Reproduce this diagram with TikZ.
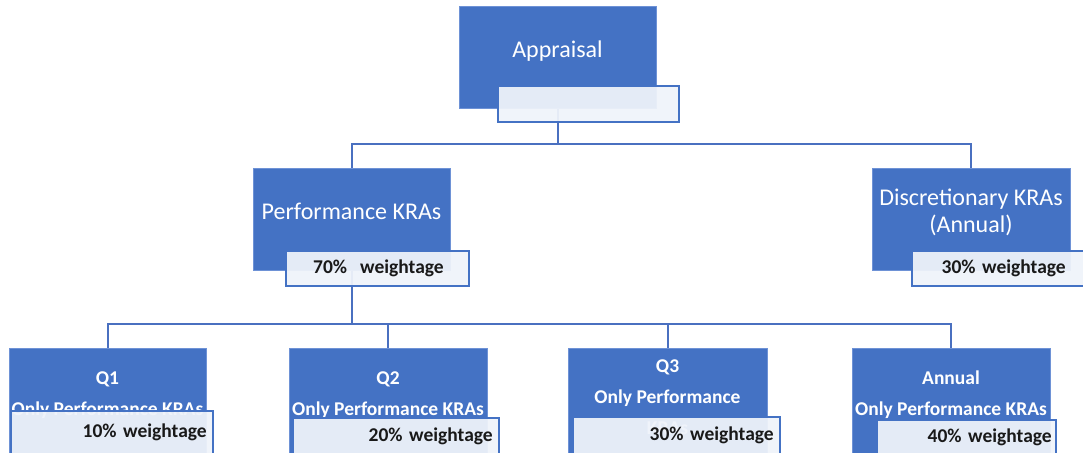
\documentclass[tikz,border=0pt]{standalone}
\usepackage{fontspec}
\setmainfont{Carlito}
\usepackage{tikz}
\usetikzlibrary{positioning}
\definecolor{kpiblue}{RGB}{68, 114, 196}
\definecolor{kpiedge}{RGB}{110, 146, 214}
\definecolor{tagfill}{RGB}{239, 243, 250}
\definecolor{linkblue}{RGB}{74, 112, 192}
\newcommand{\topfont}{\fontsize{24}{27}\selectfont}
\newcommand{\subfont}{\fontsize{19.5}{31}\selectfont\bfseries}

\begin{document}
\begin{tikzpicture}[
  x=1pt, y=-1pt,
  kpibox/.style={rectangle, draw=kpiedge, line width=1pt, fill=kpiblue,
               text=white, align=center, inner sep=0pt, font=\topfont,
               text depth=16pt},
  qbox/.style={kpibox, font=\subfont, minimum height=112pt, text depth=21pt},
  tagbox/.style={rectangle, draw=kpiblue, line width=1.5pt, fill=tagfill,
               fill opacity=0.94, text opacity=1, anchor=north west,
               align=right, inner ysep=0pt, font=\subfont, text=black!90},
  link/.style={draw=linkblue, line width=2pt}
]
  \useasboundingbox (0,0) rectangle (1083,452);
  \clip (0,0) rectangle (1083,452);

  % blue boxes
  \node[kpibox, minimum width=197pt, minimum height=101pt] (app) at (557.5,57.5) {Appraisal};
  \node[kpibox, minimum width=197pt, minimum height=102pt] (perf) at (351.5,219) {Performance KRAs};
  \node[kpibox, minimum width=198pt, minimum height=102pt] (disc) at (971,219) {Discretionary KRAs\\(Annual)};
  \node[qbox, minimum width=197pt] (q1) at (107.5,404) {Q1\\Only Performance KRAs};
  \node[qbox, minimum width=198pt] (q2) at (388,404) {Q2\\Only Performance KRAs};
  \node[qbox, minimum width=199pt, text depth=13pt] (q3) at (667.5,404) {Q3\\Only Performance\\KRAs};
  \node[qbox, minimum width=198pt] (annual) at (951,404) {Annual\\Only Performance KRAs};

  % connectors
  \draw[link] (app.south) -- ++(0,35) -| (perf.north);
  \draw[link] (app.south) -- ++(0,35) -| (disc.north);
  \foreach \child in {q1, q2, q3, annual}
    \draw[link] (perf.south) -- ++(0,53) -| (\child.north);

  % weightage tags
  \node[tagbox, minimum width=181pt, minimum height=36pt] (apptag) at (497,85) {};
  \node[tagbox, minimum width=183pt, minimum height=35pt, inner xsep=25pt, text width=133pt] (perftag) at (285,250) {70\%\ \ weightage};
  \node[tagbox, minimum width=180pt, minimum height=35pt, inner xsep=26pt, text width=128pt] (disctag) at (911,250) {30\% weightage};
  \node[tagbox, minimum width=202pt, minimum height=44pt, inner xsep=6pt, text width=190pt] (q1tag) at (10,410) {10\% weightage};
  \node[tagbox, minimum width=206pt, minimum height=37pt, inner xsep=6pt, text width=194pt] (q2tag) at (292,417) {20\% weightage};
  \node[tagbox, minimum width=207pt, minimum height=38pt, inner xsep=6pt, text width=195pt] (q3tag) at (572,416) {30\% weightage};
  \node[tagbox, minimum width=179pt, minimum height=35pt, inner xsep=4pt, text width=171pt] (antag) at (876,419) {40\% weightage};
\end{tikzpicture}
\end{document}
